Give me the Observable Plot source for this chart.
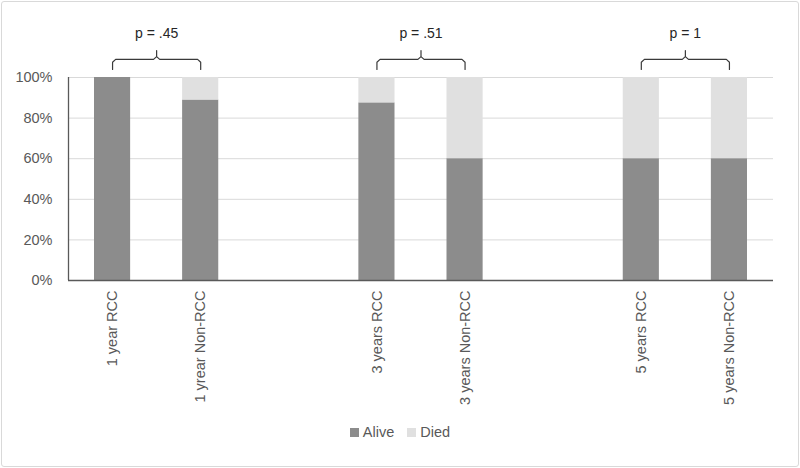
<!DOCTYPE html>
<html>
<head>
<meta charset="utf-8">
<script src="https://cdn.jsdelivr.net/npm/d3@7"></script>
<script src="https://cdn.jsdelivr.net/npm/@observablehq/plot@0.6"></script>
<style>
  html, body { margin: 0; padding: 0; background: #fff; }
  #wrap { position: relative; width: 800px; height: 468px; font-family: "Liberation Sans", Arial, sans-serif; }
  #frame { position: absolute; left: 1px; top: 1px; width: 796px; height: 464px; border: 1px solid #d9d9d9; border-radius: 3px; pointer-events: none; }
  #legend { position: absolute; left: 0; top: 424px; width: 800px; display: flex; justify-content: center; gap: 13px; font-size: 14.5px; color: #595959; }
  #legend span.item { display: flex; align-items: center; gap: 4px; }
  #legend span.sw { display: inline-block; width: 9px; height: 9px; }
</style>
</head>
<body>
<div id="wrap">
  <div id="chart"></div>
  <div id="legend"></div>
  <div id="frame"></div>
</div>
<script>
// ---- data ----
const groups = ["1 year", "3 years", "5 years"];
const categories = ["1 year RCC", "1 yrear Non-RCC", "3 years RCC", "3 years Non-RCC", "5 years RCC", "5 years Non-RCC"];
const alive = [100, 88.9, 87.5, 60, 60, 60];
const died = [0, 11.1, 12.5, 40, 40, 40];
const pValues = ["p = .45", "p = .51", "p = 1"];
const yTicks = [0, 20, 40, 60, 80, 100];
const seriesNames = ["Alive", "Died"];
const seriesColors = ["#8c8c8c", "#e0e0e0"];

// ---- layout helpers (slot index: group*3 + member, leaving a blank slot between groups) ----
const slot = i => Math.floor(i / 2) * 3 + (i % 2);
const half = 0.205;
const rows = categories.map((c, i) => ({
  cat: c, pos: slot(i), alive: alive[i], died: died[i]
}));

// braces above each pair
const braceLow = 104, braceMid = 108.9, braceTip = 113.3, r = 0.035, ry = 1.4;
const bracePts = [];
groups.forEach((g, gi) => {
  const a = gi * 3, b = gi * 3 + 1, m = (a + b) / 2;
  const pts = [
    [a, braceLow], [a, braceMid - ry], [a + r, braceMid],
    [m - r, braceMid], [m, braceMid + ry], [m, braceTip],
    [m, braceMid + ry], [m + r, braceMid], [b - r, braceMid],
    [b, braceMid - ry], [b, braceLow]
  ];
  pts.forEach(([x, y]) => bracePts.push({g, x, y}));
});
const pLabels = groups.map((g, gi) => ({x: gi * 3 + 0.5, y: 121.5, text: pValues[gi]}));

const chart = Plot.plot({
  width: 800,
  height: 424,
  marginLeft: 68,
  marginRight: 27,
  marginTop: 77,
  marginBottom: 144,
  style: {fontFamily: "'Liberation Sans', Arial, sans-serif", fontSize: "14.5px", color: "#595959", background: "transparent", overflow: "visible"},
  x: {domain: [-0.5, 7.5], axis: null},
  y: {domain: [0, 100], axis: null},
  marks: [
    Plot.ruleY(yTicks, {x1: -0.5, x2: 7.5, stroke: "#d9d9d9", strokeWidth: 1}),
    Plot.rectY(rows, {x1: d => d.pos - half, x2: d => d.pos + half, y1: 0, y2: "alive", fill: seriesColors[0]}),
    Plot.rectY(rows, {x1: d => d.pos - half, x2: d => d.pos + half, y1: "alive", y2: d => d.alive + d.died, fill: seriesColors[1]}),
    Plot.ruleY([0], {x1: -0.5, x2: 7.5, stroke: "#595959", strokeWidth: 1.3}),
    Plot.ruleX([-0.5], {y1: 0, y2: 100, stroke: "#595959", strokeWidth: 1.3}),
    Plot.axisY({ticks: yTicks, tickFormat: d => d + "%", tickSize: 0, tickPadding: 16, fill: "#595959", fontSize: 14.5, label: null}),
    Plot.axisX({ticks: rows.map(d => d.pos), tickFormat: p => rows.find(d => d.pos === p).cat, tickSize: 0, tickPadding: 10, tickRotate: -90, fill: "#595959", fontSize: 14.5, label: null}),
    Plot.line(bracePts, {x: "x", y: "y", z: "g", stroke: "#3a3a3a", strokeWidth: 1.2, curve: "linear"}),
    Plot.text(pLabels, {x: "x", y: "y", text: "text", fill: "#262626", fontSize: 14})
  ]
});
document.getElementById("chart").appendChild(chart);

const legend = document.getElementById("legend");
seriesNames.forEach((n, i) => {
  const item = document.createElement("span");
  item.className = "item";
  const sw = document.createElement("span");
  sw.className = "sw";
  sw.style.background = seriesColors[i];
  item.appendChild(sw);
  item.appendChild(document.createTextNode(n));
  legend.appendChild(item);
});
</script>
</body>
</html>
